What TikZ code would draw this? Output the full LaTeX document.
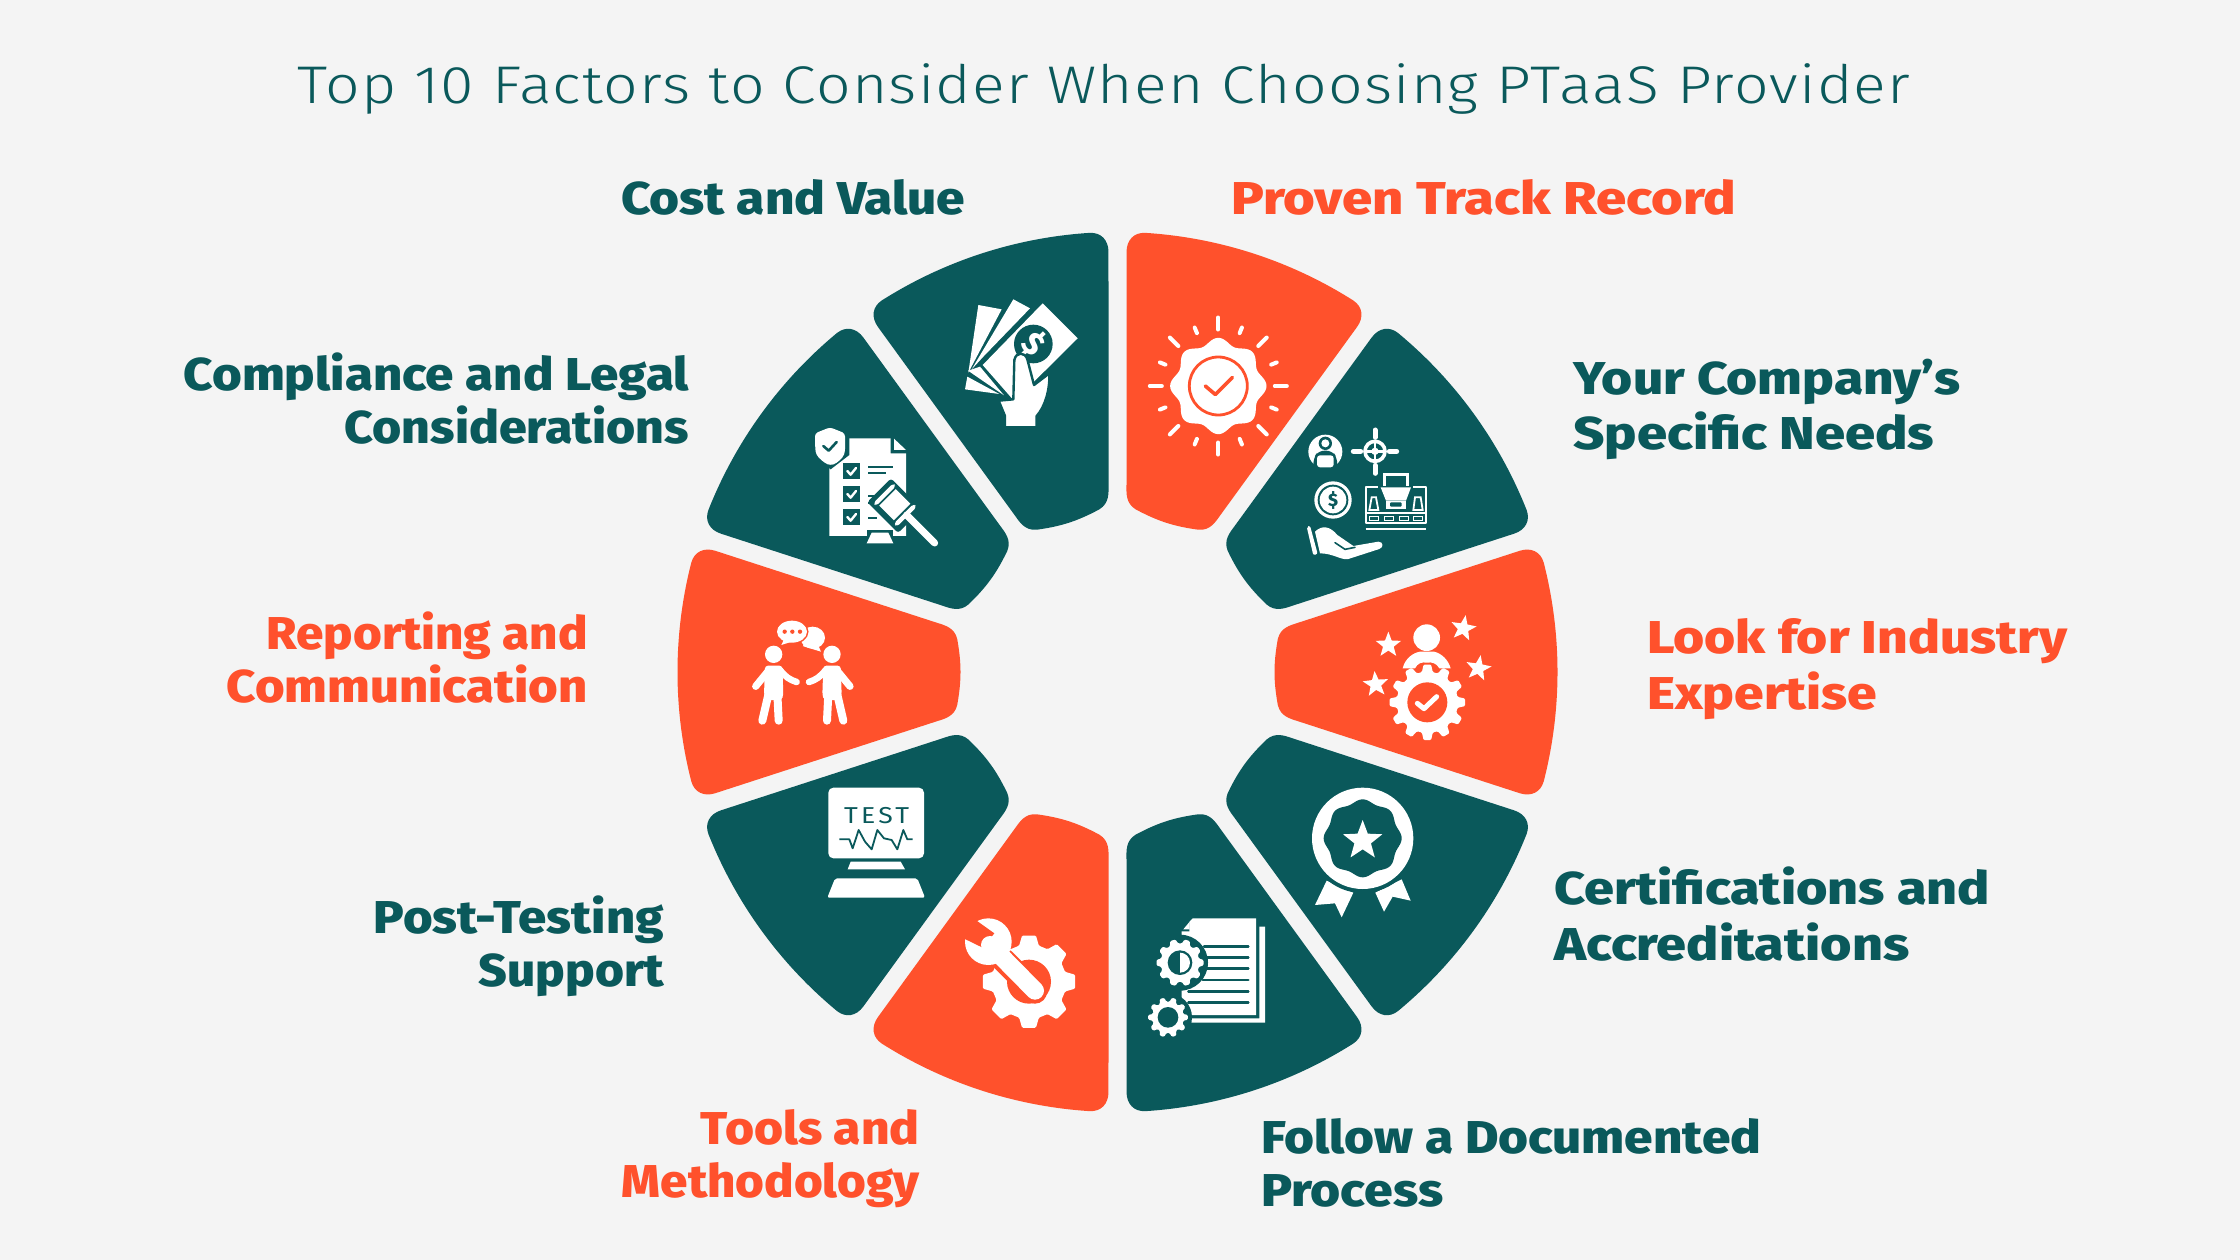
\documentclass[tikz,border=0pt]{standalone}
\usepackage{graphicx}
\usepackage{fontspec}
\setmainfont{Fira Sans}
\newfontfamily\titlefont{Fira Sans Light}[LetterSpace=2]
\newfontfamily\labelfont{Fira Sans ExtraBold}
\definecolor{teal1}{HTML}{0A595B}
\definecolor{orange1}{HTML}{FF512C}
\definecolor{bg1}{HTML}{F4F4F4}
\newcommand\fitw[2]{\resizebox{#1pt}{\height}{#2}}
\newcommand\wedgeat[2]{%
 \begin{scope}[shift={(1117.5,672)},rotate=-#1]
 \fill[#2] (-109.4,-426.2) .. controls (-37.6,-444.6) and (37.6,-444.6) .. (109.4,-426.2)
  .. controls (120.2,-423.2) and (124.9,-413.6) .. (121.2,-402.2)
  -- (49.2,-180.5)
  .. controls (46.8,-173) and (44.5,-163) .. (33,-160.3)
  .. controls (18,-157.6) and (8,-157) .. (0,-157)
  .. controls (-8,-157) and (-18,-157.6) .. (-33,-160.3)
  .. controls (-44.5,-163) and (-46.8,-173) .. (-49.2,-180.5)
  -- (-121.2,-402.2)
  .. controls (-124.9,-413.6) and (-120.2,-423.2) .. (-109.4,-426.2) -- cycle;
 \end{scope}}
% gear: x y outer body teeth colour
\newcommand\gearat[6]{%
 \fill[#6,rounded corners=1.2pt] plot[samples at={0,...,\numexpr4*#5-1\relax}]
  ({#1+(mod(\x,4)==1||mod(\x,4)==2?#3:#4)*cos(floor(\x/4)*360/#5+(mod(\x,4)==0?-.34:(mod(\x,4)==1?-.19:(mod(\x,4)==2?.19:.34)))*360/#5)},
   {#2+(mod(\x,4)==1||mod(\x,4)==2?#3:#4)*sin(floor(\x/4)*360/#5+(mod(\x,4)==0?-.34:(mod(\x,4)==1?-.19:(mod(\x,4)==2?.19:.34)))*360/#5)}) -- cycle;}
% star: x y radius rotation colour
\newcommand\starat[5]{%
 \fill[#5] plot[samples at={0,...,9}]
  ({#1+(mod(\x,2)==0?#3:#3*.42)*cos(-90+#4+36*\x)},{#2+(mod(\x,2)==0?#3:#3*.42)*sin(-90+#4+36*\x)}) -- cycle;}
% wavy disc: x y radius amplitude lobes colour
\newcommand\wavyat[6]{%
 \fill[#6] plot[smooth,samples=121,domain=0:360]
  ({#1+(#3+#4*cos(#5*\x))*cos(\x)},{#2+(#3+#4*cos(#5*\x))*sin(\x)}) -- cycle;}
\tikzset{
 lab/.style={inner sep=0pt,font=\labelfont\fontsize{46}{#1}\selectfont},
 tealtext/.style={text=teal1},
 orangetext/.style={text=orange1},
}
\begin{document}
\begin{tikzpicture}[x=1pt,y=-1pt]
\fill[bg1] (0,0) rectangle (2240,1260);
\useasboundingbox (0,0) rectangle (2240,1260);
% wedges
\wedgeat{18}{orange1}\wedgeat{54}{teal1}\wedgeat{90}{orange1}\wedgeat{126}{teal1}\wedgeat{162}{teal1}
\wedgeat{198}{orange1}\wedgeat{234}{teal1}\wedgeat{270}{orange1}\wedgeat{306}{teal1}\wedgeat{342}{teal1}
% title
\node[anchor=base west,inner sep=0pt,text=teal1,font=\titlefont\fontsize{53}{60}\selectfont] (title) at (297,103.5)
 {\fitw{1613}{Top 10 Factors to Consider When Choosing PTaaS Provider}};
% labels
\node[lab=55,tealtext,anchor=base west] (cost) at (621,214) {\fitw{344}{Cost and Value}};
\node[lab=55,orangetext,anchor=base west] (proven) at (1231,214) {\fitw{505}{Proven Track Record}};
\node[lab=55,tealtext,anchor=base west,align=left] (company) at (1573,449) {\fitw{387}{Your Company’s}\\\fitw{361}{Specific Needs}};
\node[lab=53,tealtext,anchor=base east,align=right] (compliance) at (689,443) {\fitw{505}{Compliance and Legal}\\\fitw{344}{Considerations}};
\node[lab=53,orangetext,anchor=base east,align=right] (reporting) at (588,702) {\fitw{321}{Reporting and}\\\fitw{361}{Communication}};
\node[lab=56,orangetext,anchor=base west,align=left] (industry) at (1647,709) {\fitw{420}{Look for Industry}\\\fitw{230}{Expertise}};
\node[lab=56,tealtext,anchor=base west,align=left] (cert) at (1554,960) {\fitw{436}{Certifications and}\\\fitw{355}{Accreditations}};
\node[lab=53,tealtext,anchor=base east,align=right] (post) at (664,986) {\fitw{290}{Post-Testing}\\\fitw{185}{Support}};
\node[lab=53,orangetext,anchor=base east,align=right] (tools) at (920,1197) {\fitw{219}{Tools and}\\\fitw{298}{Methodology}};
\node[lab=53,tealtext,anchor=base west,align=left] (follow) at (1261,1206) {\fitw{500}{Follow a Documented}\\\fitw{182}{Process}};

% ---- icon: Proven Track Record
\begin{scope}[shift={(1218.3,386)}]
 \wavyat{0}{0}{45}{3.2}{8}{white}
 \draw[orange1,line width=2.8pt] (0,0) circle[radius=29];
 \draw[orange1,line width=3.6pt,line join=round,line cap=round] (-13,0) -- (-3,8.5) -- (14,-8.5);
 \foreach \a in {0,45,...,315} \draw[white,line width=4pt,line cap=round] ({\a}:56.5) -- ({\a}:68.5);
 \foreach \a in {22,68,112,158,202,248,292,338} \draw[white,line width=4pt,line cap=round] ({\a}:57) -- ({\a}:63);
\end{scope}
% ---- icon: Your Company's Specific Needs
\begin{scope}[shift={(1100,210)},scale=.33333]
 \fill[white] (676,725) circle[radius=51];
 \fill[teal1] (676,700) circle[radius=20];
 \fill[white] (676,700) circle[radius=12];
 \fill[teal1,rounded corners=6pt] (640,778) -- (640,745) -- (655,722) -- (697,722) -- (712,745) -- (712,778) -- cycle;
 \fill[white,rounded corners=3pt] (651,772) rectangle (701,736);
 \draw[white,line width=3.6pt] (825,724) circle[radius=30];
 \fill[white] (825,724) circle[radius=11];
 \draw[white,line width=5pt,line cap=round] (825,660) -- (825,682) (825,766) -- (825,790) (760,724) -- (782,724) (868,724) -- (890,724);
 \draw[white,line width=2.4pt] (825,694) -- (825,754) (795,724) -- (855,724);
 \fill[white] (699,870) circle[radius=56];
 \fill[teal1] (699,870) circle[radius=46];
 \fill[white] (699,870) circle[radius=40];
 \node[text=teal1,font=\labelfont\fontsize{18}{18}\selectfont,inner sep=0pt] (coin) at (699,870) {\$};
 % cash box
 \draw[white,line width=2.2pt,line join=round] (797,830) rectangle (978,940);
 \draw[white,line width=2.2pt] (797,958) -- (978,958);
 \fill[teal1] (835,822) rectangle (940,835);
 \draw[white,line width=3pt] (854,828) -- (854,793) -- (921,793) -- (921,828);
 \fill[white] (842,832) -- (933,832) -- (918,872) -- (858,872) -- cycle;
 \fill[white] (858,872) -- (918,872) -- (918,898) -- (858,898) -- cycle;
 \fill[teal1,rounded corners=1pt] (870,877) rectangle (905,890);
 \draw[white,line width=1.8pt] (797,910) -- (978,910);
 \draw[white,line width=1.8pt] (815,862) -- (828,862) -- (835,900) -- (808,900) -- cycle;
 \draw[white,line width=1.8pt] (945,862) -- (962,862) -- (968,900) -- (940,900) -- cycle;
 \foreach \px in {808,853,898,941} \draw[white,line width=1.6pt] (\px,919) rectangle ++(27,12);
 % hand
 \fill[white,rounded corners=2pt] (620,950) -- (630,947) -- (653,1032) -- (640,1036) -- cycle;
 \fill[white] (645,965) .. controls (665,945) and (690,948) .. (712,975) -- (760,1008)
  -- (835,995) .. controls (850,995) and (852,1012) .. (838,1017)
  -- (745,1047) .. controls (725,1052) and (700,1030) .. (660,1030) -- cycle;
 \draw[teal1,line width=1.6pt,line cap=round] (705,998) -- (735,1018) -- (765,1012);
\end{scope}
% ---- icon: Look for Industry Expertise
\begin{scope}[shift={(1340,600)},scale=.33333]
 \fill[white] (260,113) circle[radius=40];
 \fill[white] (188,205) .. controls (195,175) and (220,158) .. (240,155) -- (282,155) .. controls (305,160) and (325,180) .. (332,205) -- (298,205) .. controls (290,190) and (275,185) .. (262,188) .. controls (245,185) and (232,190) .. (225,205) -- cycle;
 \starat{145}{135}{40}{0}{white}
 \starat{370}{85}{40}{10}{white}
 \starat{415}{205}{40}{10}{white}
 \starat{107}{253}{40}{-5}{white}
 \gearat{262}{307}{114}{92}{12}{white}
 \fill[orange1] (262,307) circle[radius=60];
 \draw[white,line width=5pt,line cap=round,line join=round] (232,310) -- (252,326) -- (290,290);
\end{scope}
% ---- icon: Certifications
\begin{scope}[shift={(1100,670)},scale=.33333]
 \fill[white] (680,632) -- (760,668) -- (725,742) -- (705,700) -- (645,705) -- cycle;
 \fill[white] (905,628) -- (932,692) -- (878,680) -- (852,725) -- (826,668) -- cycle;
 \fill[teal1] (788,505) circle[radius=164];
 \fill[white] (788,505) circle[radius=152];
 \wavyat{788}{505}{112}{5}{8}{teal1}
 \starat{788}{512}{62}{0}{white}
\end{scope}
% ---- icon: Follow a Documented Process
\begin{scope}[shift={(1100,670)},scale=.33333]
 \fill[white] (278,745) -- (468,745) -- (468,1035) -- (245,1035) -- (245,780) -- cycle;
 \fill[teal1] (268,745) -- (268,784) -- (236,784) -- cycle;
 \fill[white] (269,755) -- (269,778) -- (250,778) -- cycle;
 \fill[white] (478,770) -- (495,770) -- (495,1058) -- (272,1058) -- (272,1045) -- (478,1045) -- cycle;
 \foreach \yy/\xx in {829/312,862/322,896/322,930/308,964/265,997/265}
   \draw[teal1,line width=2.5pt,line cap=round] (\xx,\yy) -- (445,\yy);
 \fill[teal1] (240,878) circle[radius=84];
 \gearat{240}{878}{71}{58}{10}{white}
 \fill[teal1] (240,878) circle[radius=37];
 \fill[white] (240,848) arc[start angle=-90,end angle=90,radius=30];
 \fill[teal1] (204,1042) circle[radius=72];
 \gearat{204}{1042}{60}{47}{10}{white}
 \fill[teal1] (204,1042) circle[radius=31];
\end{scope}
% ---- icon: Tools and Methodology
\begin{scope}[shift={(660,670)},scale=.33333]
 \gearat{1107}{935}{140}{112}{8}{white}
 \fill[orange1] (1107,935) circle[radius=66];
 \draw[orange1,line width=24pt,line cap=round] (1030,870) -- (1125,965);
 \fill[white] (985,815) circle[radius=70];
 \fill[orange1] (905,720) -- (1003,790) -- (968,833) -- (880,790) -- cycle;
 \draw[white,line width=18pt,line cap=round] (990,825) -- (1125,962);
\end{scope}
% ---- icon: Post-Testing Support
\begin{scope}[shift={(660,670)},scale=.33333]
 \fill[white,rounded corners=5pt] (505,353) rectangle (792,565);
 \node[text=teal1,font=\fontsize{23}{23}\selectfont\addfontfeatures{LetterSpace=12},inner sep=0pt] (test) at (650,437) {\fitw{65}{TEST}};
 \draw[teal1,line width=1.8pt,line join=round] (538,508) -- (568,508) -- (578,535) -- (596,480) -- (615,515) -- (635,538) -- (652,480) -- (672,505) -- (695,510) -- (712,538) -- (730,480) -- (742,508) -- (758,508);
 \fill[white] (572,575) -- (722,575) -- (735,598) -- (563,598) -- cycle;
 \fill[white,rounded corners=2pt] (525,625) -- (772,625) -- (795,683) -- (502,683) -- cycle;
\end{scope}
% ---- icon: Reporting and Communication
\begin{scope}[shift={(720,600)},scale=.33333]
 \foreach \mirr/\off in {1/0,-1/497}{
 \begin{scope}[shift={(\off,0)},xscale=\mirr]
  \fill[white] (161,163) circle[radius=26];
  \fill[white,rounded corners=3pt] (135,197) -- (187,197) -- (190,285) -- (185,300) -- (140,300) -- (132,285) -- cycle;
  \draw[white,line width=7.2pt,line cap=round] (143,215) -- (107,259);
  \draw[white,line width=6.5pt,line cap=round] (180,210) .. controls (195,230) and (210,240) .. (230,246);
  \draw[white,line width=8pt,line cap=round] (146,280) -- (127,362);
  \draw[white,line width=8pt,line cap=round] (172,280) -- (176,362);
 \end{scope}}
 \fill[white] (278,113) ellipse[x radius=37,y radius=33];
 \fill[white] (255,135) -- (238,135) -- (270,145) -- (303,155) -- (292,130) -- cycle;
 \draw[orange1,line width=3pt] (216,95) ellipse[x radius=45,y radius=33];
 \fill[orange1] (240,120) -- (225,140) -- (250,138) -- cycle;
 \fill[white] (216,95) ellipse[x radius=45,y radius=33];
 \fill[white] (192,118) -- (184,135) -- (215,125) -- cycle;
 \foreach \dx in {194,217,240} \fill[orange1] (\dx,95) circle[radius=6.5];
\end{scope}
% ---- icon: Compliance
\begin{scope}[shift={(660,210)},scale=.33333]
 \fill[white] (508,685) -- (692,685) -- (692,730) -- (738,730) -- (738,978) -- (508,978) -- cycle;
 \fill[white] (702,686) -- (738,720) -- (702,720) -- cycle;
 \fill[teal1] (510,640) -- (452,666) -- (456,735) -- (512,778) -- (568,735) -- (568,666) -- cycle;
 \fill[white,rounded corners=3pt] (510,652) -- (465,670) -- (466,725) .. controls (475,745) and (495,760) .. (512,766) .. controls (530,760) and (548,745) .. (555,725) -- (555,670) -- cycle;
 \draw[teal1,line width=2.6pt,line cap=round,line join=round] (490,708) -- (506,722) -- (530,696);
 \foreach \yy in {760,829,898}{
  \fill[teal1] (550,\yy) rectangle ++(50,46);
  \draw[white,line width=2.4pt,line cap=round,line join=round] (562,{\yy+23}) -- (572,{\yy+34}) -- (588,{\yy+14});}
 \draw[teal1,line width=2.2pt] (625,770) -- (698,770) (625,790) -- (678,790) (625,858) -- (680,858) (625,880) -- (660,880) (625,925) -- (650,925);
 % gavel
 \fill[teal1] (620,1000) -- (700,1000) -- (700,960) -- (620,960) -- cycle;
 \begin{scope}[shift={(705,885)},rotate=-45]
  \fill[teal1,rounded corners=3pt] (-65,-48) rectangle (66,53);
  \fill[teal1] (0,-15) rectangle (175,15);
 \end{scope}
 \draw[white,line width=7pt,line cap=round] (740,915) -- (824,999);
 \begin{scope}[shift={(705,885)},rotate=-45]
  \fill[white] (-32,-35) rectangle (30,35);
  \fill[white,rounded corners=3pt] (-50,-42) rectangle (-38,42);
  \fill[white,rounded corners=3pt] (37,-42) rectangle (50,42);
 \end{scope}
 \fill[white] (635,968) -- (685,968) -- (700,1000) -- (620,1000) -- cycle;
\end{scope}
% ---- icon: Cost and Value
\begin{scope}[shift={(660,210)},scale=.33333]
 \fill[white] (955,285) -- (1025,298) -- (925,488) -- cycle;
 \fill[white] (1060,268) -- (1110,295) -- (970,440) -- (935,478) -- cycle;
 \fill[white] (1148,280) -- (1253,385) -- (1125,512) -- (1060,570) -- (968,465) -- cycle;
 \fill[white] (924,482) -- (960,470) -- (1032,556) -- cycle;
 \fill[white] (922,500) -- (1018,552) -- (915,538) -- cycle;
 \fill[teal1] (1120,402) circle[radius=58];
 \node[text=white,rotate=-45,font=\labelfont\fontsize{32}{32}\selectfont,inner sep=0pt] (bill) at (1120,402) {\$};
 \filldraw[fill=white,draw=teal1,line width=2.4pt,line join=round] (1016,572) -- (1060,568) -- (1063,450) .. controls (1068,425) and (1095,425) .. (1102,448) -- (1122,525) -- (1168,490) .. controls (1170,540) and (1155,590) .. (1130,618) -- (1130,652) -- (1035,652) -- (1035,618) -- cycle;
 \fill[teal1] (1032,654) rectangle (1134,662);
\end{scope}
\end{tikzpicture}
\end{document}
